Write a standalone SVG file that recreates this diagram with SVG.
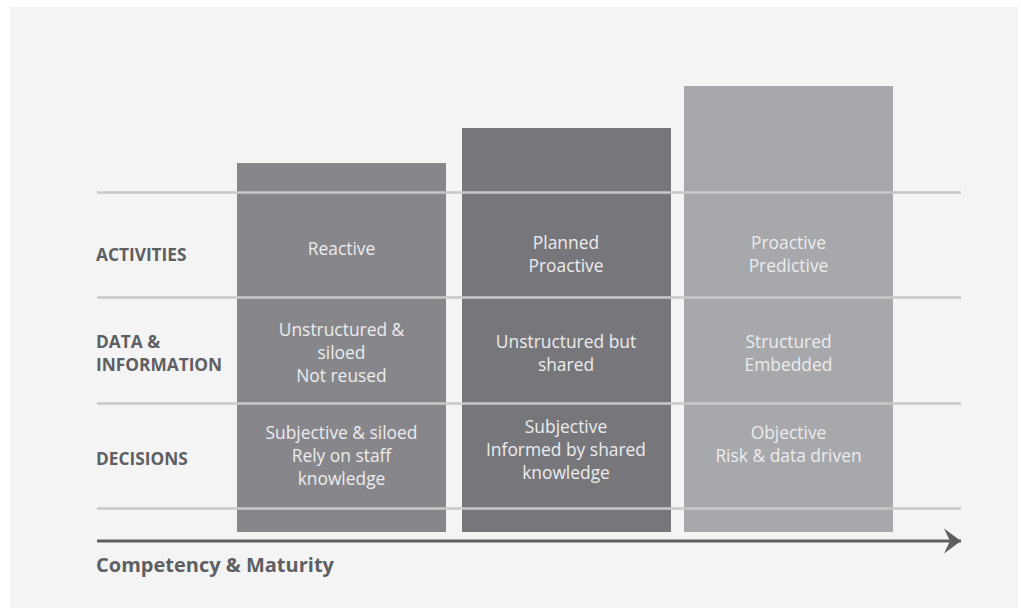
<svg xmlns="http://www.w3.org/2000/svg" width="1021" height="611" viewBox="0 0 1021 611">
  <style>
    .row { font-family: "Open Sans", "Liberation Sans", sans-serif; font-weight: 700; font-size: 17.3px; fill: #5e5f63; }
    .cell { font-family: "Open Sans", "Liberation Sans", sans-serif; font-size: 17.4px; fill: #ececee; text-anchor: middle; }
    .title { font-family: "Open Sans", "Liberation Sans", sans-serif; font-weight: 700; font-size: 20px; fill: #5e5f63; }
    .grid { stroke: #c8c8cb; stroke-width: 2.5; }
  </style>
  <defs>
    <marker id="arrowhead" markerUnits="userSpaceOnUse" markerWidth="20" markerHeight="28" refX="17" refY="13" orient="auto">
      <path d="M17,13 L0,0.5 L6,13 L0,25.5 Z" fill="#5e5f63"/>
    </marker>
  </defs>

  <!-- page and panel -->
  <rect width="1021" height="611" fill="#ffffff"/>
  <rect x="10" y="7" width="1008" height="601" fill="#f4f4f4"/>

  <!-- maturity stage columns -->
  <g id="stage-1">
    <rect x="237" y="163" width="209" height="369" fill="#87878b"/>
    <text class="cell" x="341.5" y="255">Reactive</text>
    <text class="cell" x="341.5" y="336">Unstructured &amp;</text>
    <text class="cell" x="341.5" y="359">siloed</text>
    <text class="cell" x="341.5" y="382">Not reused</text>
    <text class="cell" x="341.5" y="439">Subjective &amp; siloed</text>
    <text class="cell" x="341.5" y="462">Rely on staff</text>
    <text class="cell" x="341.5" y="485">knowledge</text>
  </g>
  <g id="stage-2">
    <rect x="462" y="128" width="209" height="404" fill="#77777b"/>
    <text class="cell" x="566" y="249">Planned</text>
    <text class="cell" x="566" y="272">Proactive</text>
    <text class="cell" x="566" y="348">Unstructured but</text>
    <text class="cell" x="566" y="371">shared</text>
    <text class="cell" x="566" y="433">Subjective</text>
    <text class="cell" x="566" y="456">Informed by shared</text>
    <text class="cell" x="566" y="479">knowledge</text>
  </g>
  <g id="stage-3">
    <rect x="684" y="86" width="209" height="446" fill="#a7a8ab"/>
    <text class="cell" x="788.5" y="249">Proactive</text>
    <text class="cell" x="788.5" y="272">Predictive</text>
    <text class="cell" x="788.5" y="348">Structured</text>
    <text class="cell" x="788.5" y="371">Embedded</text>
    <text class="cell" x="788.5" y="439">Objective</text>
    <text class="cell" x="788.5" y="462">Risk &amp; data driven</text>
  </g>

  <!-- row divider lines -->
  <g id="grid-lines">
    <line class="grid" x1="97" y1="192.5" x2="961" y2="192.5"/>
    <line class="grid" x1="97" y1="297.5" x2="961" y2="297.5"/>
    <line class="grid" x1="97" y1="403.5" x2="961" y2="403.5"/>
    <line class="grid" x1="97" y1="508.5" x2="961" y2="508.5"/>
  </g>

  <!-- row labels -->
  <g id="label-activities">
    <text class="row" x="96" y="261">ACTIVITIES</text>
  </g>
  <g id="label-data">
    <text class="row" x="96" y="348">DATA &amp;</text>
    <text class="row" x="96" y="371">INFORMATION</text>
  </g>
  <g id="label-decisions">
    <text class="row" x="96" y="465">DECISIONS</text>
  </g>

  <!-- maturity axis -->
  <g id="connectors">
    <line x1="97" y1="541" x2="961" y2="541" stroke="#5e5f63" stroke-width="3" marker-end="url(#arrowhead)"/>
  </g>
  <g id="axis-label">
    <text class="title" x="96" y="572">Competency &amp; Maturity</text>
  </g>
</svg>
